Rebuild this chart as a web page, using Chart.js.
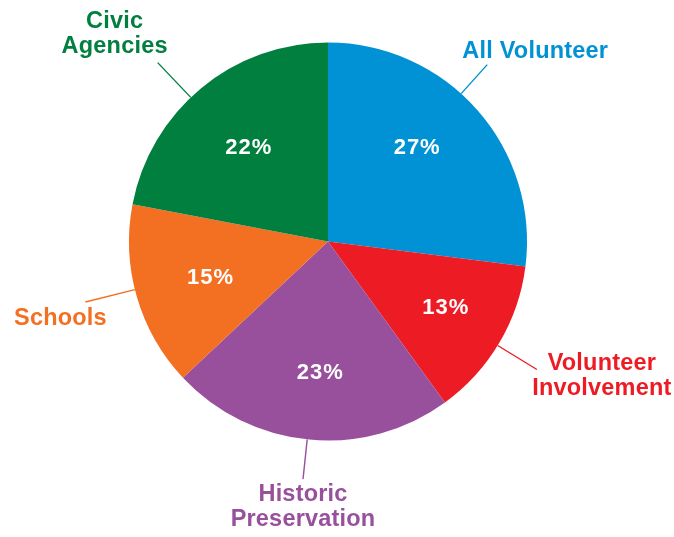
<!DOCTYPE html>
<html>
<head>
<meta charset="utf-8">
<script src="https://cdn.jsdelivr.net/npm/chart.js@4"></script>
<style>
  html, body { margin: 0; padding: 0; background: #fff; }
  #wrap { width: 674px; height: 537px; }
</style>
</head>
<body>
<div id="wrap"><canvas id="chartjs-0" width="674" height="537"></canvas></div>
<script>
// chart values, clockwise from the top
var categories = [["All Volunteer"], ["Volunteer", "Involvement"], ["Historic", "Preservation"], ["Schools"], ["Civic", "Agencies"]];
var shares = [27, 13, 23, 15, 22];
var sliceColors = ["#0191d5", "#ed1c24", "#984f9c", "#f36f21", "#007f3f"];

// where the callouts sit (angle tweak in degrees, leader length, text offset from leader end)
var callouts = [
  { turn: -6.6, len: 39, dx: 48, dy: -13 },
  { turn: 0.9, len: 46, dx: 65, dy: 7 },
  { turn: 0.6, len: 40, dx: 0, dy: 28 },
  { turn: 2.2, len: 51, dx: -25, dy: 17 },
  { turn: -4, len: 48, dx: -43, dy: -29 }
];
// percent labels inside the slices
var pctSpots = [
  { turn: -5.6, r: 130 },
  { turn: -1.6, r: 134 },
  { turn: -1.8, r: 130 },
  { turn: -0.4, r: 123 },
  { turn: -0.4, r: 124 }
];

var labelPlugin = {
  id: "callouts",
  afterDraw: function (chart) {
    var ctx = chart.ctx;
    var arcs = chart.getDatasetMeta(0).data;
    ctx.save();
    ctx.textAlign = "center";
    ctx.textBaseline = "middle";
    for (var i = 0; i < arcs.length; i++) {
      var arc = arcs[i];
      var mid = (arc.startAngle + arc.endAngle) / 2;

      // percent text
      var pa = mid + pctSpots[i].turn * Math.PI / 180;
      ctx.fillStyle = "#ffffff";
      ctx.font = "bold 22px 'Liberation Sans', Arial, sans-serif";
      ctx.letterSpacing = "1px";
      ctx.fillText(shares[i] + "%", arc.x + pctSpots[i].r * Math.cos(pa) + 0.5, arc.y + pctSpots[i].r * Math.sin(pa) + 1.5);

      // leader line
      var c = callouts[i];
      var la = mid + c.turn * Math.PI / 180;
      var r0 = arc.outerRadius;
      var x0 = arc.x + r0 * Math.cos(la), y0 = arc.y + r0 * Math.sin(la);
      var x1 = arc.x + (r0 + c.len) * Math.cos(la), y1 = arc.y + (r0 + c.len) * Math.sin(la);
      ctx.strokeStyle = sliceColors[i];
      ctx.lineWidth = 1.4;
      ctx.beginPath();
      ctx.moveTo(x0, y0);
      ctx.lineTo(x1, y1);
      ctx.stroke();

      // category text
      var lines = categories[i];
      var lh = 25;
      ctx.fillStyle = sliceColors[i];
      ctx.font = "bold 23.5px 'Liberation Sans', Arial, sans-serif";
      ctx.letterSpacing = "0.2px";
      for (var k = 0; k < lines.length; k++) {
        var ty = y1 + c.dy + (k - (lines.length - 1) / 2) * lh;
        ctx.fillText(lines[k], x1 + c.dx, ty);
      }
    }
    ctx.restore();
  }
};

var ctx0 = document.getElementById("chartjs-0");
var myChart = new Chart(ctx0, {
  type: "pie",
  data: {
    labels: categories.map(function (l) { return l.join(" "); }),
    datasets: [{
      data: shares,
      backgroundColor: sliceColors,
      borderWidth: 0,
      hoverOffset: 0
    }]
  },
  options: {
    responsive: false,
    animation: false,
    layout: { padding: { left: 129, right: 147, top: 42.5, bottom: 96.5 } },
    plugins: {
      legend: { display: false },
      tooltip: { enabled: false }
    }
  },
  plugins: [labelPlugin]
});
</script>
</body>
</html>
